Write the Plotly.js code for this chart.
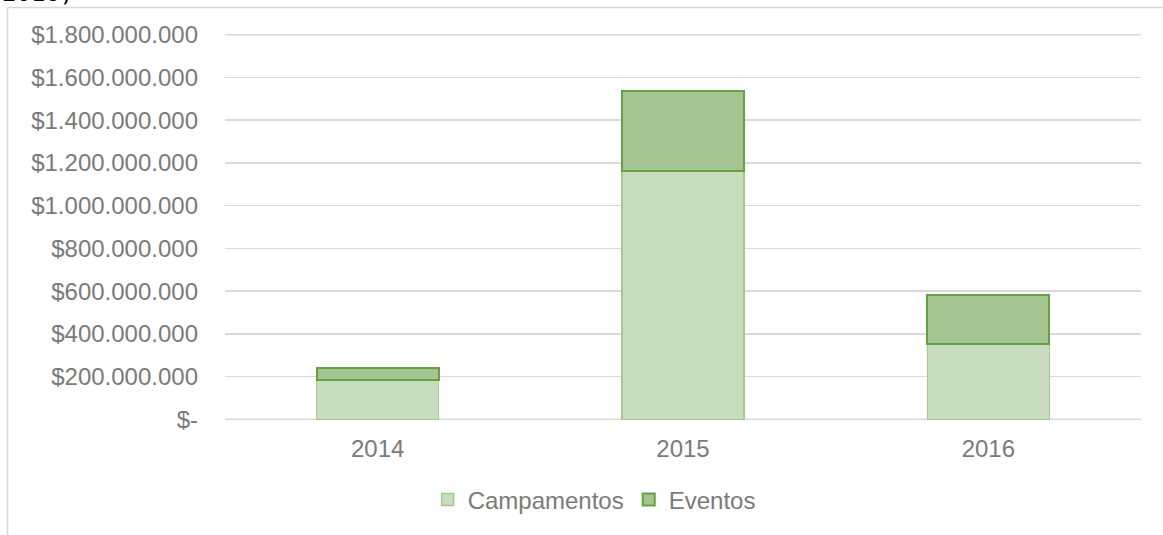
<!DOCTYPE html>
<html>
<head>
<meta charset="utf-8">
<script src="https://cdn.plot.ly/plotly-3.0.1.min.js"></script>
<style>html,body{margin:0;padding:0;background:#fff;}#chart{width:1163px;height:535px;}</style>
</head>
<body>
<div id="chart"></div>
<script>
const years = ['2014', '2015', '2016'];
const campamentos = [186000000, 1161000000, 354000000];
const eventos = [56000000, 373000000, 229000000];
const tickVals = [0, 200000000, 400000000, 600000000, 800000000, 1000000000, 1200000000, 1400000000, 1600000000, 1800000000];
const tickText = ['$-', '$200.000.000', '$400.000.000', '$600.000.000', '$800.000.000', '$1.000.000.000', '$1.200.000.000', '$1.400.000.000', '$1.600.000.000', '$1.800.000.000'];

const font = {family: 'Liberation Sans, Arial, sans-serif', size: 24, color: '#7a7a7a'};
const gridColor = '#d9d9d9';

const traces = [
  {type: 'bar', name: 'Campamentos', x: years, y: campamentos,
   marker: {color: '#c8ddbd', line: {color: '#a3c98f', width: 1.5}}, hoverinfo: 'none'},
  {type: 'bar', name: 'Eventos', x: years, y: eventos,
   marker: {color: '#a4c492', line: {color: '#65a042', width: 2}}, hoverinfo: 'none'}
];

const edgeLines = [tickVals[0], tickVals[tickVals.length - 1]].map(v => ({
  type: 'line', xref: 'paper', yref: 'y', x0: 0, x1: 1, y0: v, y1: v, layer: 'below',
  line: {color: gridColor, width: 1.5}
}));

const layout = {
  width: 1163, height: 535,
  margin: {l: 225, r: 22, t: 34, b: 113},
  barmode: 'stack', bargap: 0.6,
  paper_bgcolor: '#ffffff', plot_bgcolor: '#ffffff',
  font: font,
  showlegend: true,
  legend: {orientation: 'h', x: 0.403, xanchor: 'center', y: -0.207, yanchor: 'middle', font: font, traceorder: 'normal', itemwidth: 30},
  xaxis: {type: 'category', range: [-0.5, 2.5], showgrid: false, zeroline: false, showline: false, ticks: '', tickfont: font, ticklabelstandoff: 12},
  yaxis: {range: [-3000000, 1803000000], tickvals: tickVals, ticktext: tickText, showgrid: true, gridcolor: gridColor, gridwidth: 1.5, zeroline: false, showline: false, ticks: '', tickfont: font, ticklabelstandoff: 26},
  shapes: [
    {type: 'line', xref: 'paper', yref: 'paper', x0: -0.2374, x1: -0.2374, y0: -0.31, y1: 1.0686, line: {color: gridColor, width: 1.5}},
    {type: 'line', xref: 'paper', yref: 'paper', x0: -0.2374, x1: 1.03, y0: 1.0686, y1: 1.0686, line: {color: gridColor, width: 1.5}}
  ].concat(edgeLines),
  annotations: [
    {text: '2016)', xref: 'paper', yref: 'paper', x: -0.2456, xanchor: 'left', y: 1.0635, yanchor: 'bottom', showarrow: false,
     font: {family: 'DejaVu Sans Mono, monospace', size: 24, color: '#000000'}}
  ]
};

Plotly.newPlot('chart', traces, layout, {displayModeBar: false, staticPlot: true});
</script>
</body>
</html>
